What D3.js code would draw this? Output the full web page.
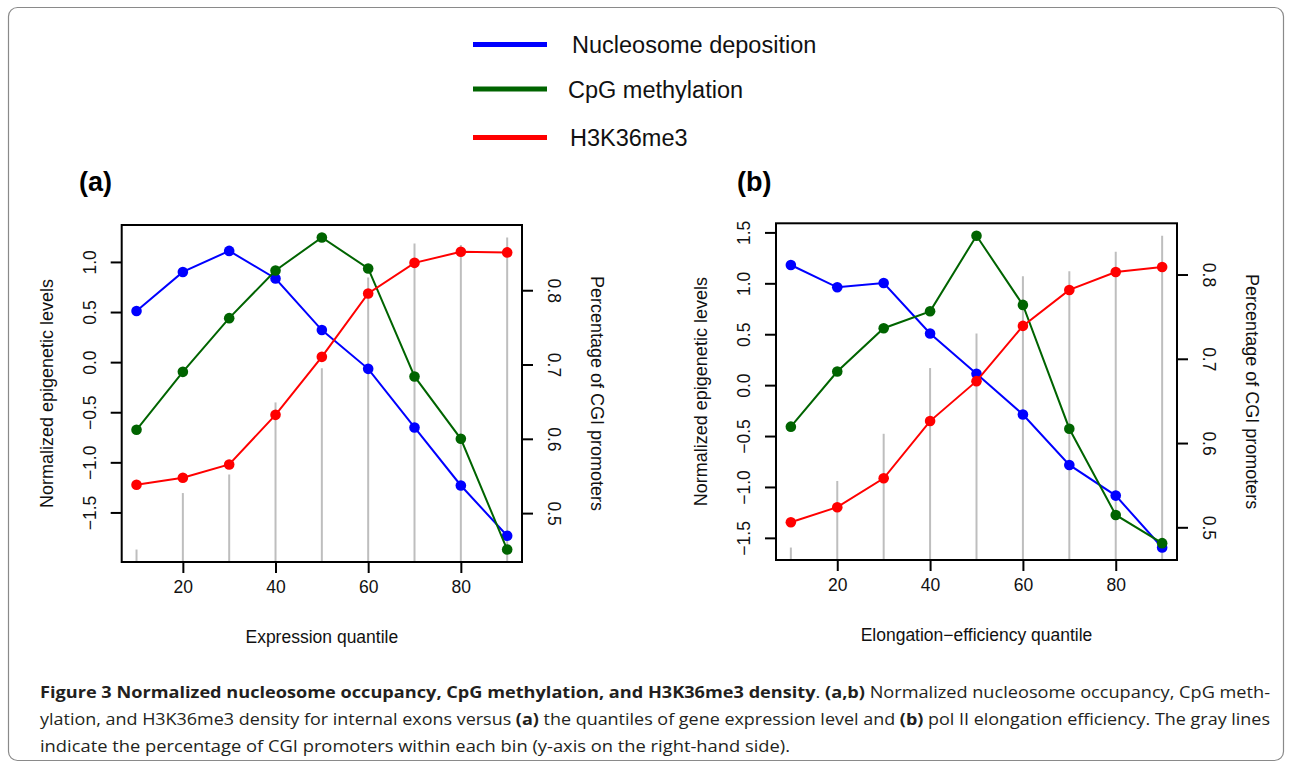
<!DOCTYPE html>
<html>
<head>
<meta charset="utf-8">
<script src="https://cdn.jsdelivr.net/npm/d3@7"></script>
<style>
  body { margin: 0; background: #fff; }
  svg text { font-family: "Liberation Sans", Arial, sans-serif; }
  .caption text { font-family: "Open Sans", "Noto Sans", sans-serif; }
</style>
</head>
<body>
<div id="chart"></div>
<script>
// quantile bins
var quantiles = [10, 20, 30, 40, 50, 60, 70, 80, 90];

// panel (a): expression quantile
var aNucleosome = [0.51, 0.90, 1.11, 0.835, 0.32, -0.067, -0.652, -1.231, -1.733];
var aCpG        = [-0.675, -0.097, 0.439, 0.915, 1.244, 0.935, -0.143, -0.765, -1.87];
var aH3K36      = [-1.224, -1.154, -1.021, -0.526, 0.053, 0.685, 0.991, 1.101, 1.095];
var aCGI        = [0.451, 0.527, 0.552, 0.649, 0.695, 0.817, 0.863, 0.861, 0.871];

// panel (b): elongation-efficiency quantile
var bNucleosome = [1.18, 0.961, 1.003, 0.507, 0.111, -0.288, -0.784, -1.085, -1.595];
var bCpG        = [-0.408, 0.134, 0.559, 0.725, 1.467, 0.788, -0.428, -1.275, -1.552];
var bH3K36      = [-1.346, -1.199, -0.915, -0.353, 0.039, 0.582, 0.935, 1.111, 1.16];
var bCGI        = [0.476, 0.555, 0.611, 0.689, 0.730, 0.798, 0.804, 0.827, 0.846];

var seriesNames = ['Nucleosome deposition', 'CpG methylation', 'H3K36me3'];
var seriesColors = ['#0000ff', '#006400', '#ff0000'];

var xTicks = [20, 40, 60, 80];
var aLeftTicks = [-1.5, -1.0, -0.5, 0.0, 0.5, 1.0];
var bLeftTicks = [-1.5, -1.0, -0.5, 0.0, 0.5, 1.0, 1.5];
var rightTicks = [0.5, 0.6, 0.7, 0.8];

var svg = d3.select('#chart')
  .append('svg')
  .attr('width', 1292)
  .attr('height', 770);

svg.append('rect')
  .attr('width', 1292).attr('height', 770).attr('fill', '#fff');

// rounded frame
svg.append('rect')
  .attr('x', 8.5).attr('y', 7.5)
  .attr('width', 1275).attr('height', 753)
  .attr('rx', 9).attr('ry', 9)
  .attr('fill', 'none')
  .attr('stroke', '#8a8a8a')
  .attr('stroke-width', 1.2);

// legend
var legend = svg.append('g').attr('class', 'legend');
var legendY = [44.5, 89, 137.5];
legend.selectAll('line')
  .data(seriesNames)
  .enter()
    .append('line')
    .attr('x1', 473).attr('x2', 547)
    .attr('y1', function(d, i){ return legendY[i]; })
    .attr('y2', function(d, i){ return legendY[i]; })
    .attr('stroke', function(d, i){ return seriesColors[i]; })
    .attr('stroke-width', 5);
legend.selectAll('text')
  .data(seriesNames)
  .enter()
    .append('text')
    .attr('x', function(d, i){ return [572, 568, 570][i]; })
    .attr('y', function(d, i){ return legendY[i] + 8.5; })
    .attr('font-size', 23.5)
    .attr('fill', '#111')
    .text(function(d){ return d; });

// R style axis extension (4%)
function rExtent(values){
  var lo = d3.min(values), hi = d3.max(values), pad = (hi - lo) * 0.04;
  return [lo - pad, hi + pad];
}

function fmt(v){
  return (v < 0 ? '\u2212' : '') + Math.abs(v).toFixed(1);
}

function drawPanel(p){
  var g = svg.append('g');
  var x = d3.scaleLinear()
    .domain(rExtent(quantiles))
    .range([p.left, p.right]);
  var y = d3.scaleLinear()
    .domain(rExtent([].concat(p.series[0], p.series[1], p.series[2])))
    .range([p.bottom, p.top]);
  var y2 = d3.scaleLinear()
    .domain(rExtent(p.cgi))
    .range([p.bottom, p.top]);

  // gray CGI lines
  g.selectAll('line.cgi')
    .data(p.cgi)
    .enter()
      .append('line')
      .classed('cgi', true)
      .attr('x1', function(d, i){ return x(quantiles[i]); })
      .attr('x2', function(d, i){ return x(quantiles[i]); })
      .attr('y1', p.bottom)
      .attr('y2', function(d){ return y2(d); })
      .attr('stroke', '#bebebe')
      .attr('stroke-width', 2);

  // series lines + points
  var line = d3.line()
    .x(function(d, i){ return x(quantiles[i]); })
    .y(function(d){ return y(d); });
  p.series.forEach(function(s, k){
    g.append('path')
      .datum(s)
      .attr('d', line)
      .attr('fill', 'none')
      .attr('stroke', seriesColors[k])
      .attr('stroke-width', 2);
    g.selectAll('circle.s' + k)
      .data(s)
      .enter()
        .append('circle')
        .classed('s' + k, true)
        .attr('cx', function(d, i){ return x(quantiles[i]); })
        .attr('cy', function(d){ return y(d); })
        .attr('r', 5.3)
        .attr('fill', seriesColors[k]);
  });

  // axes
  var bottomAxis = g.append('g')
    .attr('transform', 'translate(0,' + p.bottom + ')')
    .call(d3.axisBottom(x).tickValues(xTicks).tickSize(11).tickPadding(8).tickFormat(d3.format('d')));
  var leftAxis = g.append('g')
    .attr('transform', 'translate(' + p.left + ',0)')
    .call(d3.axisLeft(y).tickValues(p.leftTicks).tickSize(11).tickFormat(fmt));
  var rightAxis = g.append('g')
    .attr('transform', 'translate(' + p.right + ',0)')
    .call(d3.axisRight(y2).tickValues(rightTicks).tickSize(11).tickFormat(d3.format('.1f')));

  [bottomAxis, leftAxis, rightAxis].forEach(function(a){
    a.select('.domain').remove();
    a.selectAll('.tick line').attr('stroke', '#000').attr('stroke-width', 2);
    a.selectAll('.tick text').attr('font-size', 17.5).attr('fill', '#111')
      .attr('font-family', '"Liberation Sans", Arial, sans-serif');
  });
  bottomAxis.selectAll('.tick text').attr('dy', '0.71em');

  // rotated tick labels like R (las = 0)
  leftAxis.selectAll('.tick text')
    .attr('x', null).attr('dy', null)
    .attr('text-anchor', 'middle')
    .attr('transform', 'translate(' + (-32) + ',0) rotate(-90) translate(0,6)');
  rightAxis.selectAll('.tick text')
    .attr('x', null).attr('dy', null)
    .attr('text-anchor', 'middle')
    .attr('transform', 'translate(' + 32 + ',0) rotate(90) translate(0,6)');

  // frame
  g.append('rect')
    .attr('x', p.left).attr('y', p.top)
    .attr('width', p.right - p.left).attr('height', p.bottom - p.top)
    .attr('fill', 'none').attr('stroke', '#000').attr('stroke-width', 2);

  var midY = (p.top + p.bottom) / 2;
  g.append('text')
    .attr('transform', 'translate(' + (p.left - 69) + ',' + midY + ') rotate(-90)')
    .attr('text-anchor', 'middle')
    .attr('font-size', 18).attr('fill', '#111')
    .text('Normalized epigenetic levels');
  g.append('text')
    .attr('transform', 'translate(' + (p.right + 69) + ',' + midY + ') rotate(90)')
    .attr('text-anchor', 'middle')
    .attr('font-size', 18).attr('fill', '#111')
    .text('Percentage of CGI promoters');
  g.append('text')
    .attr('x', (p.left + p.right) / 2).attr('y', p.bottom + 81)
    .attr('text-anchor', 'middle')
    .attr('font-size', 17.5).attr('fill', '#111')
    .text(p.xTitle);
  g.append('text')
    .attr('x', p.tagX).attr('y', 191)
    .attr('font-size', 27).attr('font-weight', 'bold').attr('fill', '#000')
    .text(p.tag);
}

drawPanel({
  left: 121.7, right: 522, top: 225, bottom: 562,
  series: [aNucleosome, aCpG, aH3K36], cgi: aCGI,
  leftTicks: aLeftTicks, xTitle: 'Expression quantile',
  tag: '(a)', tagX: 79
});
drawPanel({
  left: 776, right: 1177, top: 223.3, bottom: 560,
  series: [bNucleosome, bCpG, bH3K36], cgi: bCGI,
  leftTicks: bLeftTicks, xTitle: 'Elongation\u2212efficiency quantile',
  tag: '(b)', tagX: 737
});

// caption, lines squeezed to the width of the condensed original
var caption = svg.append('g').attr('class', 'caption').attr('font-size', 16.5).attr('fill', '#231f20');
var cap1 = caption.append('text').attr('x', 40).attr('y', 698)
  .attr('textLength', 1230).attr('lengthAdjust', 'spacingAndGlyphs');
cap1.append('tspan').attr('font-weight', 'bold')
  .text('Figure 3 Normalized nucleosome occupancy, CpG methylation, and H3K36me3 density');
cap1.append('tspan').text('. ');
cap1.append('tspan').attr('font-weight', 'bold').text('(a,b)');
cap1.append('tspan').text(' Normalized nucleosome occupancy, CpG meth-');

var cap2 = caption.append('text').attr('x', 40).attr('y', 725)
  .attr('textLength', 1230).attr('lengthAdjust', 'spacingAndGlyphs');
cap2.append('tspan').text('ylation, and H3K36me3 density for internal exons versus ');
cap2.append('tspan').attr('font-weight', 'bold').text('(a)');
cap2.append('tspan').text(' the quantiles of gene expression level and ');
cap2.append('tspan').attr('font-weight', 'bold').text('(b)');
cap2.append('tspan').text(' pol II elongation efficiency. The gray lines');

caption.append('text').attr('x', 40).attr('y', 752)
  .attr('textLength', 750).attr('lengthAdjust', 'spacingAndGlyphs')
  .text('indicate the percentage of CGI promoters within each bin (y-axis on the right-hand side).');
</script>
</body>
</html>
